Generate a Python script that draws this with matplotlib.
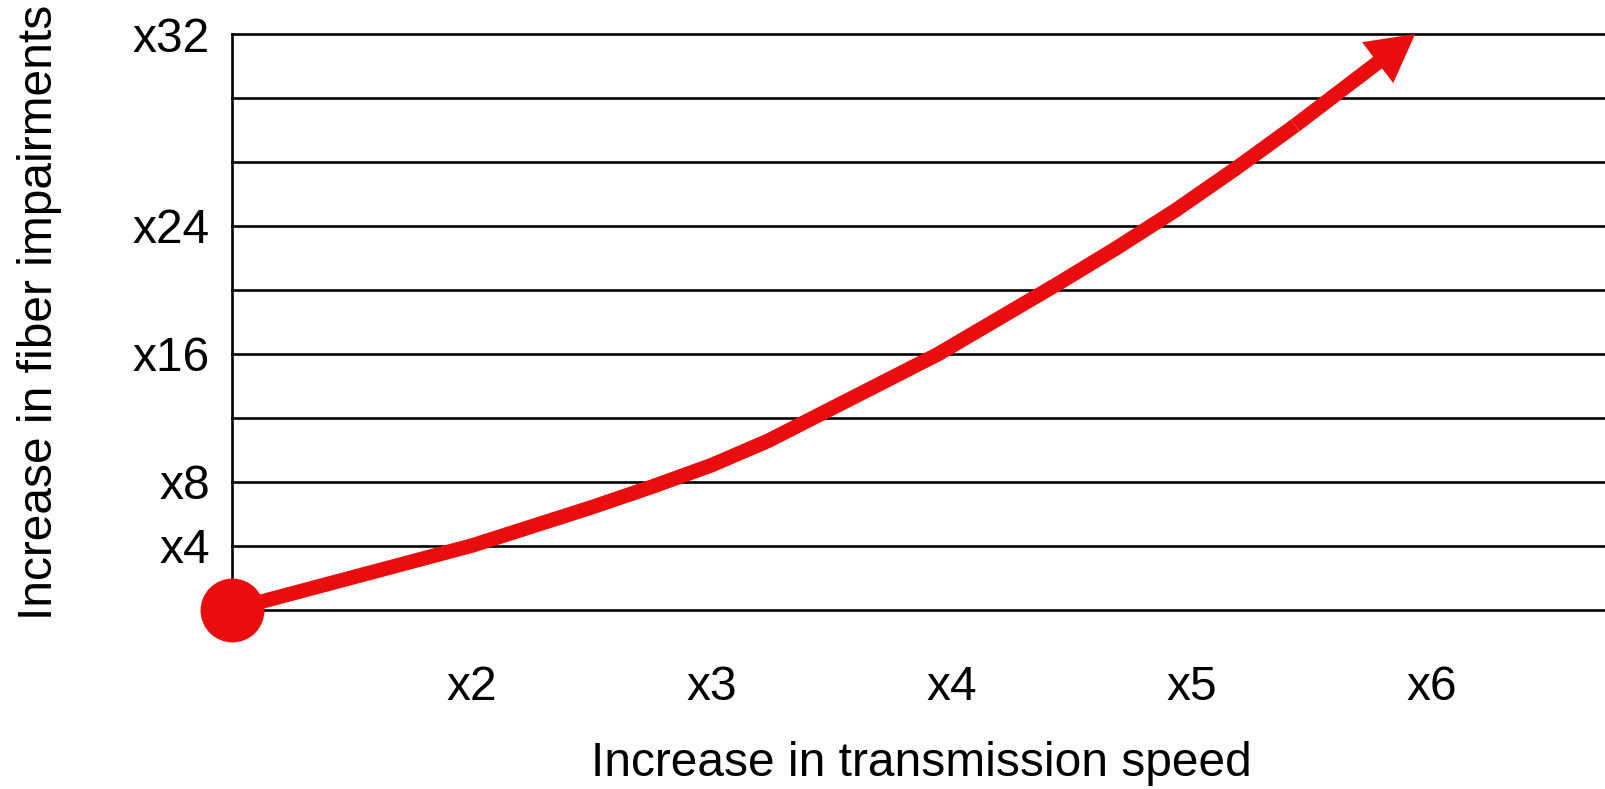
import matplotlib
matplotlib.use("Agg")
import matplotlib.pyplot as plt

plt.rcParams['font.family'] = ['Liberation Sans', 'DejaVu Sans']

# Speed multiplier along the horizontal axis
speed_ticks = [2, 3, 4, 5, 6]
speed_labels = ['x2', 'x3', 'x4', 'x5', 'x6']

# Impairment levels on the vertical axis (grid rows 0..9)
level_rows = list(range(10))
level_tick_rows = [1, 2, 4, 6, 9]
level_labels = ['x4', 'x8', 'x16', 'x24', 'x32']

# Growth curve (speed, impairment row)
curve_speed = [1.0, 2.0, 2.5, 2.75, 3.0, 3.235, 3.47, 3.94, 4.43, 4.68, 4.93, 5.18, 5.43]
curve_level = [0.0, 1.0, 1.6, 1.92, 2.26, 2.64, 3.09, 3.99, 5.07, 5.64, 6.24, 6.89, 7.57]
arrow_tip = (5.93, 9.0)

RED = '#E90D0D'
FS = 34.5
LINE_W = 10.5

fig = plt.figure(figsize=(16.06, 7.89), dpi=100)
ax = fig.add_axes([232 / 1606, (789 - 609.5) / 789, 1 - 232 / 1606, (609.5 - 34) / 789])

ax.set_xlim(1, 1 + (1606 - 232) / 240)
ax.set_ylim(0, 9)

# horizontal rules
for r in level_rows:
    ax.axhline(r, color='black', lw=1.9, zorder=1, clip_on=False)

for side in ('top', 'bottom', 'right'):
    ax.spines[side].set_visible(False)
ax.spines['left'].set_color('black')
ax.spines['left'].set_linewidth(1.9)

ax.set_xticks(speed_ticks)
ax.set_xticklabels(speed_labels, fontsize=FS)
ax.set_yticks(level_tick_rows)
ax.set_yticklabels(level_labels, fontsize=FS)
ax.tick_params(axis='x', length=0, pad=40)
ax.tick_params(axis='y', length=0, pad=16)

# curve body
ax.plot(curve_speed, curve_level, color=RED, lw=LINE_W, solid_joinstyle='miter',
        solid_capstyle='butt', zorder=3, clip_on=False)
# arrow head to the final point
ax.annotate('', xy=arrow_tip, xytext=(curve_speed[-1], curve_level[-1]),
            arrowprops=dict(arrowstyle=f'simple,head_length=34,head_width=37,tail_width={LINE_W}',
                            mutation_scale=1, color=RED, lw=0,
                            shrinkA=0, shrinkB=0),
            annotation_clip=False, zorder=3)
# starting dot
ax.plot([curve_speed[0]], [curve_level[0]], 'o', color=RED, ms=46, mew=0,
        zorder=4, clip_on=False)

ax.set_xlabel('Increase in transmission speed', fontsize=FS)
ax.xaxis.set_label_coords(0.502, (609.5 - 763) / 575.5)
ax.xaxis.label.set_va('center')
ax.set_ylabel('Increase in fiber impairments', fontsize=FS)
ax.yaxis.set_label_coords((40 - 232) / 1374, (609.5 - 312) / 575.5)
ax.yaxis.label.set_va('center')

fig.savefig('out.png', dpi=100)
